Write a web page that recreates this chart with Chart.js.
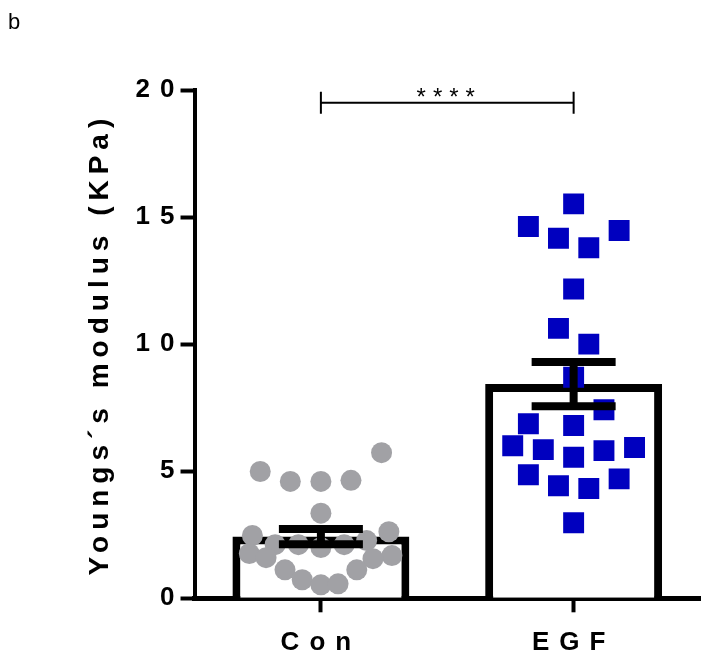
<!DOCTYPE html>
<html>
<head>
<meta charset="utf-8">
<script src="https://cdn.jsdelivr.net/npm/chart.js@4/dist/chart.umd.min.js"></script>
<style>
  body { margin: 0; background: #fff; }
  canvas { display: block; }
</style>
</head>
<body>
<canvas id="chart1" width="707" height="666"></canvas>
<script>
const groups = ['Con', 'EGF'];
const means = [2.43, 8.43];
const sems = [0.30, 0.87];

// jitter offsets (in group units) and values
const conX = [-0.240, -0.121, 0, 0.119, 0.240, 0, -0.271, 0.269, -0.181, -0.089, 0, 0.092, 0.181,
  -0.283, -0.217, 0.281, 0.206, -0.142, 0.142, -0.074, 0, 0.068];
const conY = [4.99, 4.60, 4.60, 4.64, 5.73, 3.35, 2.47, 2.62, 2.11, 2.11, 2.00, 2.11, 2.27,
  1.76, 1.60, 1.68, 1.56, 1.12, 1.12, 0.73, 0.53, 0.57];
const egfX = [0, -0.179, -0.060, 0.060, 0.180, 0, -0.060, 0.060, 0, 0.120, -0.179, 0, -0.241,
  -0.120, 0, 0.120, 0.241, -0.179, -0.060, 0.060, 0.180, 0];
const egfY = [15.52, 14.63, 14.17, 13.79, 14.47, 12.17, 10.62, 10.00, 8.70, 7.42, 6.87, 6.80, 6.00,
  5.85, 5.55, 5.81, 5.93, 4.86, 4.43, 4.32, 4.70, 2.97];

const yMax = 20;
const yStep = 5;
const sigLevel = 19.5;
const sigText = '****';
const panelLabel = 'b';

const FONT = 'Arial, "Liberation Sans", sans-serif';

const spacing = {
  id: 'spacing',
  beforeLayout(chart) { chart.ctx.letterSpacing = '6px'; },
  beforeDraw(chart) { chart.ctx.letterSpacing = '6px'; }
};

// wider letter spacing for the tick labels only
function spacedLabels(scale) {
  if (scale._spaced) return;
  scale._spaced = true;
  const orig = scale.drawLabels;
  scale.drawLabels = function (area) {
    const old = this.ctx.letterSpacing;
    this.ctx.letterSpacing = '10px';
    orig.call(this, area);
    this.ctx.letterSpacing = old;
  };
}

const extras = {
  id: 'extras',
  afterDatasetsDraw(chart) {
    const ctx = chart.ctx;
    const x = chart.scales.x;
    const y = chart.scales.y;
    ctx.save();
    ctx.strokeStyle = '#000';
    ctx.lineCap = 'butt';
    // error bars (mean +/- sem)
    ctx.lineWidth = 8;
    means.forEach((m, i) => {
      const cx = x.getPixelForValue(i);
      const top = y.getPixelForValue(m + sems[i]);
      const bot = y.getPixelForValue(m - sems[i]);
      ctx.beginPath();
      ctx.moveTo(cx, top); ctx.lineTo(cx, bot);
      ctx.moveTo(cx - 42, top); ctx.lineTo(cx + 42, top);
      ctx.moveTo(cx - 42, bot); ctx.lineTo(cx + 42, bot);
      ctx.stroke();
    });
    // significance bracket
    const x0 = x.getPixelForValue(0);
    const x1 = x.getPixelForValue(1);
    const sy = y.getPixelForValue(sigLevel);
    ctx.lineWidth = 2;
    ctx.beginPath();
    ctx.moveTo(x0, sy); ctx.lineTo(x1, sy);
    ctx.moveTo(x0, sy - 11); ctx.lineTo(x0, sy + 11);
    ctx.moveTo(x1, sy - 11); ctx.lineTo(x1, sy + 11);
    ctx.stroke();
    ctx.fillStyle = '#000';
    ctx.font = '24px ' + FONT;
    ctx.letterSpacing = '7px';
    ctx.textAlign = 'center';
    ctx.textBaseline = 'alphabetic';
    ctx.fillText(sigText, (x0 + x1) / 2 + 2, sy + 2);
    // panel letter
    ctx.letterSpacing = '0px';
    ctx.textAlign = 'left';
    ctx.font = '22px ' + FONT;
    ctx.fillText(panelLabel, 8, 29);
    ctx.restore();
  }
};

new Chart(document.getElementById('chart1'), {
  type: 'bar',
  data: {
    datasets: [{
      type: 'bar',
      label: 'mean',
      data: means.map((m, i) => ({ x: i, y: m })),
      backgroundColor: '#ffffff',
      borderColor: '#000000',
      borderWidth: 8,
      grouped: false,
      barPercentage: 0.70,
      categoryPercentage: 1.0,
      order: 2
    }, {
      type: 'scatter',
      label: 'Con',
      data: conY.map((v, i) => ({ x: 0 + conX[i], y: v })),
      pointStyle: 'circle',
      pointRadius: 10.5,
      pointBorderWidth: 0,
      backgroundColor: '#a1a1a5',
      borderColor: '#a1a1a5',
      order: 1
    }, {
      type: 'scatter',
      label: 'EGF',
      data: egfY.map((v, i) => ({ x: 1 + egfX[i], y: v })),
      pointStyle: 'rect',
      pointRadius: 14.8,
      pointBorderWidth: 0,
      backgroundColor: '#0000bf',
      borderColor: '#0000bf',
      order: 1
    }]
  },
  options: {
    responsive: false,
    animation: false,
    layout: {
      autoPadding: false,
      padding: { top: 90, right: 7, bottom: -7.5, left: 70 }
    },
    plugins: {
      legend: { display: false },
      tooltip: { enabled: false }
    },
    scales: {
      x: {
        type: 'linear',
        min: -0.5,
        max: 1.5,
        offset: false,
        afterFit: spacedLabels,
        afterBuildTicks: (scale) => {
          scale.ticks = groups.map((g, i) => ({ value: i }));
        },
        grid: {
          offset: false,
          drawOnChartArea: false,
          tickLength: 14,
          tickWidth: 4,
          color: '#000'
        },
        border: { width: 5, color: '#000' },
        ticks: {
          color: '#000',
          padding: 15,
          callback: (v) => groups[v],
          font: { family: FONT, size: 26, weight: 'bold' }
        }
      },
      y: {
        min: 0,
        max: yMax,
        afterFit: spacedLabels,
        grid: {
          drawOnChartArea: false,
          tickLength: 14,
          tickWidth: 4,
          color: '#000'
        },
        border: { width: 4, color: '#000' },
        ticks: {
          stepSize: yStep,
          color: '#000',
          padding: -4,
          font: { family: FONT, size: 26, weight: 'bold' }
        },
        title: {
          display: true,
          text: 'Youngs´s modulus (KPa)',
          color: '#000',
          padding: { top: 13, bottom: 31 },
          font: { family: FONT, size: 28, weight: 'bold' }
        }
      }
    }
  },
  plugins: [spacing, extras]
});
</script>
</body>
</html>
